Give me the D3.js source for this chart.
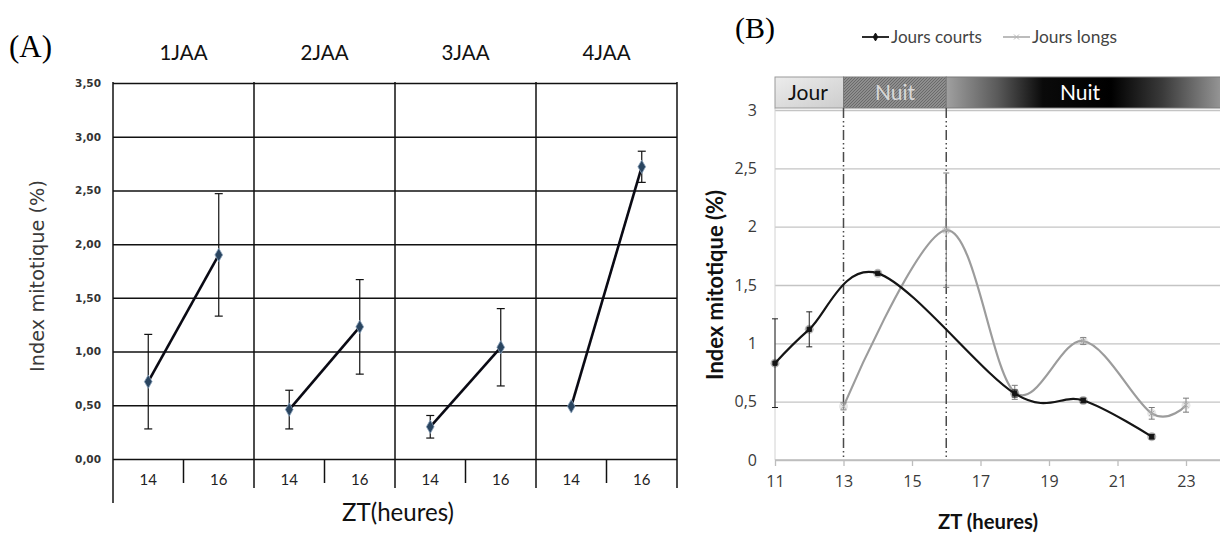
<!DOCTYPE html>
<html><head><meta charset="utf-8">
<script src="https://cdn.jsdelivr.net/npm/d3@7/dist/d3.min.js"></script>
<style>body{margin:0;background:#fff;}svg{display:block;}</style>
</head><body>
<script>
// ---------- Data : panel A ----------
const groupsA = ["1JAA", "2JAA", "3JAA", "4JAA"];
const ztA = ["14", "16"];
const mean14 = [0.72, 0.46, 0.30, 0.49];
const mean16 = [1.90, 1.23, 1.04, 2.72];
const err14 = [0.44, 0.18, 0.105, 0];
const err16 = [0.57, 0.44, 0.36, 0.145];
const yTicksA = [0, 0.5, 1, 1.5, 2, 2.5, 3, 3.5];

// ---------- Data : panel B ----------
const seriesNames = ["Jours courts", "Jours longs"];
const ztCourts = [11, 12, 14, 18, 20, 22];
const courts = [0.83, 1.12, 1.60, 0.57, 0.51, 0.20];
const errCourts = [0.38, 0.15, 0, 0.03, 0.02, 0.02];
const ztLongs = [13, 16, 18, 20, 22, 23];
const longs = [0.46, 1.97, 0.58, 1.02, 0.40, 0.47];
const errLongs = [0.03, 0.49, 0.06, 0.03, 0.05, 0.06];
const yTicksB = [0, 0.5, 1, 1.5, 2, 2.5, 3];
const xTicksB = [11, 13, 15, 17, 19, 21, 23];
const phaseLabels = ["Jour", "Nuit", "Nuit"];
const phaseStart = [11, 13, 16];
const phaseEnd = [13, 16, 24.3];
const phaseBounds = [13, 16];

const svg = d3.select("body").append("svg").attr("width", 1220).attr("height", 536);
const defs = svg.append("defs");

function fit(sel, target) {
  const w = sel.node().getComputedTextLength();
  const fs = parseFloat(sel.attr("font-size"));
  sel.attr("font-size", (fs * target / w).toFixed(2));
  return sel;
}
const fmt = d => String(d).replace(".", ",");

// =============== PANEL A ===============
const A = svg.append("g");
const yA = d3.scaleLinear().domain([0, 3.5]).range([459, 83]);
const xG = d3.scaleBand().domain(groupsA).range([113, 677]);
const xS = d3.scaleBand().domain(ztA).range([0, xG.bandwidth()]);
const px = (g, z) => xG(g) + xS(z) + xS.bandwidth() / 2;

A.append("text").attr("x", 9).attr("y", 57).attr("font-family", "Liberation Serif")
  .attr("font-size", 31).attr("fill", "#000").text("(A)");

const gridA = A.append("g").attr("transform", "translate(113,0)")
  .call(d3.axisLeft(yA).tickValues(yTicksA).tickSize(-564).tickPadding(12)
    .tickFormat(d => d.toFixed(2).replace(".", ",")));
gridA.select(".domain").remove();
gridA.selectAll(".tick line").attr("stroke", "#111").attr("stroke-width", 1.5);
gridA.selectAll(".tick text").attr("font-family", "DejaVu Sans").attr("font-size", 10.5)
  .attr("font-weight", "bold").attr("fill", "#333");

// left axis line
A.append("line").attr("x1", 113).attr("x2", 113).attr("y1", 82).attr("y2", 503)
  .attr("stroke", "#111").attr("stroke-width", 1.5);
// group separators + right edge
const sepX = groupsA.slice(1).map(g => xG(g)).concat([xG.range()[1]]);
A.selectAll("line.sep").data(sepX).enter().append("line")
  .attr("x1", d => d).attr("x2", d => d).attr("y1", 82).attr("y2", 488)
  .attr("stroke", "#111").attr("stroke-width", 1.5);
// sub separators
A.selectAll("line.sub").data(groupsA).enter().append("line")
  .attr("x1", g => xG(g) + xS("16")).attr("x2", g => xG(g) + xS("16"))
  .attr("y1", 459).attr("y2", 483).attr("stroke", "#111").attr("stroke-width", 1.5);

// group labels
A.selectAll("text.grp").data(groupsA).enter().append("text")
  .attr("x", g => xG(g) + xG.bandwidth() / 2).attr("y", 60).attr("text-anchor", "middle")
  .attr("font-family", "Lato").attr("font-size", 20.5).attr("fill", "#111").text(g => g);

// sub labels
groupsA.forEach(g => {
  ztA.forEach(z => {
    A.append("text").attr("x", px(g, z)).attr("y", 485).attr("text-anchor", "middle")
      .attr("font-family", "Lato").attr("font-size", 15).attr("fill", "#222").text(z);
  });
});

// y title
const ytA = A.append("text").attr("transform", "translate(44,276) rotate(-90)")
  .attr("text-anchor", "middle").attr("font-family", "DejaVu Sans").attr("font-size", 17)
  .attr("fill", "#3a3a3a").text("Index mitotique (%)");
fit(ytA, 192);
// x title
const xtA = A.append("text").attr("x", 398).attr("y", 521).attr("text-anchor", "middle")
  .attr("font-family", "Lato").attr("font-size", 21).attr("fill", "#111").text("ZT(heures)");
fit(xtA, 112);

// data
const ptsA = groupsA.map((g, i) => [
  { g, z: "14", v: mean14[i], e: err14[i] },
  { g, z: "16", v: mean16[i], e: err16[i] }
]);
ptsA.forEach(pair => {
  A.append("line").attr("x1", px(pair[0].g, pair[0].z)).attr("y1", yA(pair[0].v))
    .attr("x2", px(pair[1].g, pair[1].z)).attr("y2", yA(pair[1].v))
    .attr("stroke", "#0a0a14").attr("stroke-width", 2.6);
  pair.forEach(p => {
    if (p.e > 0) {
      const x = px(p.g, p.z), y1 = yA(p.v + p.e), y2 = yA(p.v - p.e);
      A.append("line").attr("x1", x).attr("x2", x).attr("y1", y1).attr("y2", y2)
        .attr("stroke", "#111").attr("stroke-width", 1.2);
      [y1, y2].forEach(y => A.append("line").attr("x1", x - 4).attr("x2", x + 4)
        .attr("y1", y).attr("y2", y).attr("stroke", "#111").attr("stroke-width", 1.2));
    }
  });
  pair.forEach(p => {
    A.append("path").attr("d", d3.symbol(d3.symbolDiamond, 52)())
      .attr("transform", `translate(${px(p.g, p.z)},${yA(p.v)})`)
      .attr("fill", "#2a4560").attr("stroke", "#8aa2bb").attr("stroke-width", 0.8);
  });
});

// =============== PANEL B ===============
const B = svg.append("g");
const xB = d3.scaleLinear().domain([11, 23]).range([775, 1186]);
const yB = d3.scaleLinear().domain([0, 3]).range([460, 110]);

B.append("text").attr("x", 735).attr("y", 38).attr("font-family", "Liberation Serif")
  .attr("font-size", 30).attr("fill", "#000").text("(B)");

// gradients & pattern
const jg = defs.append("linearGradient").attr("id", "jourGrad").attr("x1", 0).attr("x2", 1).attr("y1", 0).attr("y2", 1);
jg.append("stop").attr("offset", "0%").attr("stop-color", "#ececec");
jg.append("stop").attr("offset", "100%").attr("stop-color", "#cdcdcd");
const ng = defs.append("linearGradient").attr("id", "nightGrad").attr("x1", 0).attr("x2", 1);
[["0%", "#a0a0a0"], ["18%", "#5a5a5a"], ["34%", "#0a0a0a"], ["58%", "#000"], ["76%", "#3a3a3a"], ["100%", "#a4a4a4"]]
  .forEach(s => ng.append("stop").attr("offset", s[0]).attr("stop-color", s[1]));
const hp = defs.append("pattern").attr("id", "hatch").attr("patternUnits", "userSpaceOnUse")
  .attr("width", 3).attr("height", 3);
hp.append("rect").attr("width", 3).attr("height", 3).attr("fill", "#8e8e8e");
hp.append("path").attr("d", "M0,3L3,0M-1,1L1,-1M2,4L4,2").attr("stroke", "#666").attr("stroke-width", 0.9);

// grid + y axis
const gridB = B.append("g").attr("transform", "translate(775,0)")
  .call(d3.axisLeft(yB).tickValues(yTicksB).tickSize(-445).tickPadding(18).tickFormat(fmt));
gridB.select(".domain").remove();
gridB.selectAll(".tick line").attr("stroke", "#c4c4c4").attr("stroke-width", 1.3);
gridB.selectAll(".tick text").attr("font-family", "Open Sans").attr("font-size", 16).attr("fill", "#3a3a3a");

B.append("line").attr("x1", 775).attr("x2", 775).attr("y1", 108).attr("y2", 460)
  .attr("stroke", "#d2d2d2").attr("stroke-width", 1);

// x axis
const axB = B.append("g").attr("transform", "translate(0,460)")
  .call(d3.axisBottom(xB).tickValues(xTicksB).tickSize(6).tickPadding(10).tickFormat(d => d));
axB.select(".domain").remove();
axB.selectAll(".tick line").attr("stroke", "#bdbdbd").attr("stroke-width", 1.3);
axB.selectAll(".tick text").attr("font-family", "Open Sans").attr("font-size", 16).attr("fill", "#3a3a3a");
B.append("line").attr("x1", 775).attr("x2", 1220).attr("y1", 460).attr("y2", 460)
  .attr("stroke", "#bdbdbd").attr("stroke-width", 1.3);

// phase bar
const barY = 77, barH = 31;
const phaseFill = ["url(#jourGrad)", "url(#hatch)", "url(#nightGrad)"];
const phaseStroke = ["#9a9a9a", "#7a7a7a", "#7a7a7a"];
const phaseText = ["#111", "#d8d8d8", "#ffffff"];
phaseLabels.forEach((lab, i) => {
  B.append("rect").attr("x", xB(phaseStart[i])).attr("y", barY)
    .attr("width", xB(phaseEnd[i]) - xB(phaseStart[i])).attr("height", barH)
    .attr("fill", phaseFill[i]).attr("stroke", phaseStroke[i]).attr("stroke-width", 1);
});
const labX = [808, 895, 1080];
phaseLabels.forEach((lab, i) => {
  B.append("text").attr("x", labX[i]).attr("y", 100).attr("text-anchor", "middle")
    .attr("font-family", "Lato").attr("font-size", 21).attr("fill", phaseText[i]).text(lab);
});

// dash-dot bounds
B.selectAll("line.bound").data(phaseBounds).enter().append("line")
  .attr("x1", d => xB(d)).attr("x2", d => xB(d)).attr("y1", barY + barH).attr("y2", 460)
  .attr("stroke", "#4a4a4a").attr("stroke-width", 1.5).attr("stroke-dasharray", "10,3,1.5,3,1.5,3");

// y title
const ytB = B.append("text").attr("transform", "translate(723,285) rotate(-90)")
  .attr("text-anchor", "middle").attr("font-family", "Lato").attr("font-weight", "bold")
  .attr("font-size", 18).attr("fill", "#111").text("Index mitotique (%)");
fit(ytB, 190);
const xtB = B.append("text").attr("x", 988).attr("y", 529).attr("text-anchor", "middle")
  .attr("font-family", "Lato").attr("font-weight", "bold")
  .attr("font-size", 18).attr("fill", "#111").text("ZT (heures)");
fit(xtB, 100);

// series
const seriesB = [
  { name: seriesNames[1], xs: ztLongs, ys: longs, es: errLongs, col: "#9c9c9c", mcol: "#b0b0b0", ecol: "#7a7a7a", sym: d3.symbolX },
  { name: seriesNames[0], xs: ztCourts, ys: courts, es: errCourts, col: "#151515", mcol: "#151515", ecol: "#222", sym: d3.symbolSquare }
];
const lineB = d3.line().x(d => xB(d[0])).y(d => yB(d[1])).curve(d3.curveCardinal.tension(0));
seriesB.forEach(s => {
  const pts = s.xs.map((x, i) => [x, s.ys[i], s.es[i]]);
  B.append("path").datum(pts).attr("d", lineB).attr("fill", "none")
    .attr("stroke", s.col).attr("stroke-width", 2.2);
  pts.forEach(p => {
    if (p[2] > 0.015) {
      const x = xB(p[0]), y1 = yB(p[1] + p[2]), y2 = yB(p[1] - p[2]);
      B.append("line").attr("x1", x).attr("x2", x).attr("y1", y1).attr("y2", y2)
        .attr("stroke", s.ecol).attr("stroke-width", 1);
      [y1, y2].forEach(y => B.append("line").attr("x1", x - 3).attr("x2", x + 3)
        .attr("y1", y).attr("y2", y).attr("stroke", s.ecol).attr("stroke-width", 1));
    }
    B.append("circle").attr("cx", xB(p[0])).attr("cy", yB(p[1])).attr("r", 4.5)
      .attr("fill", s.mcol).attr("opacity", 0.3);
    B.append("path").attr("d", d3.symbol(s.sym, 18)())
      .attr("transform", `translate(${xB(p[0])},${yB(p[1])})`)
      .attr("fill", s.mcol).attr("stroke", s.mcol).attr("stroke-width", 1);
  });
});

// legend
const legX = [862, 1003], legTW = [91, 85];
const legCols = ["#151515", "#b5b5b5"], legSym = [d3.symbolDiamond, d3.symbolX];
seriesNames.forEach((n, i) => {
  B.append("line").attr("x1", legX[i]).attr("x2", legX[i] + 27).attr("y1", 37).attr("y2", 37)
    .attr("stroke", legCols[i]).attr("stroke-width", 1.8);
  B.append("path").attr("d", d3.symbol(legSym[i], 18)())
    .attr("transform", `translate(${legX[i] + 13.5},37)`)
    .attr("fill", legCols[i]).attr("stroke", legCols[i]).attr("stroke-width", 1);
  const t = B.append("text").attr("x", legX[i] + 29).attr("y", 42.5)
    .attr("font-family", "Lato").attr("font-size", 16).attr("fill", "#444").text(n);
  fit(t, legTW[i]);
});
</script>
</body></html>
